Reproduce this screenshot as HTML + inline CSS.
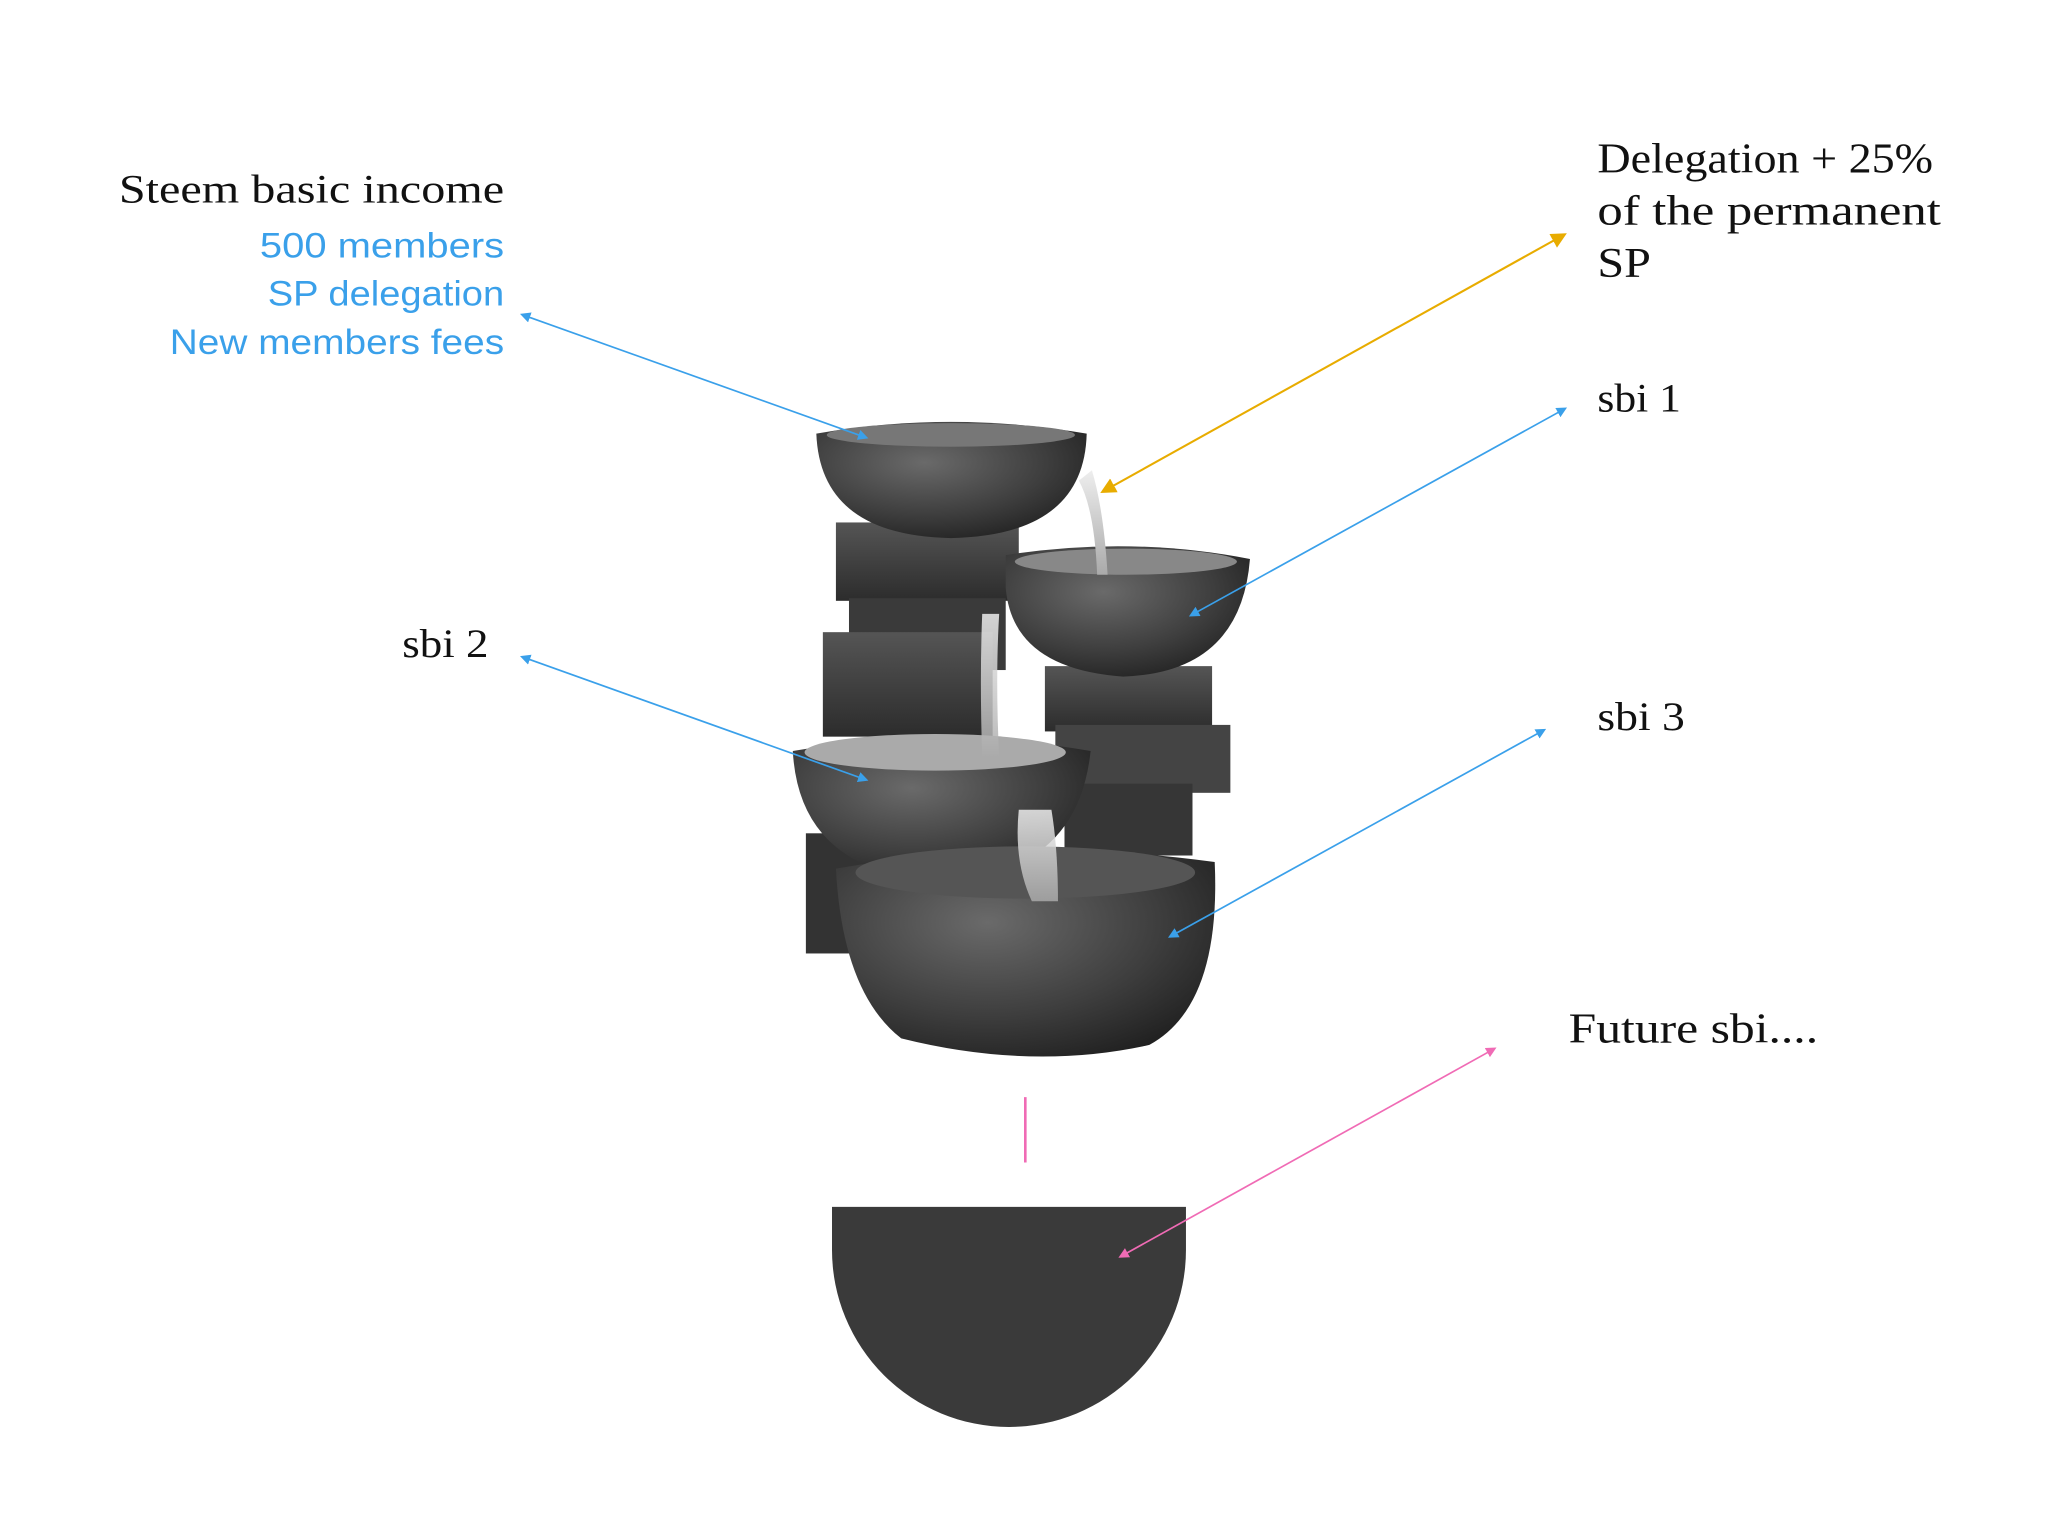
<!DOCTYPE html>
<html><head><meta charset="utf-8"><style>
html,body{margin:0;padding:0;background:#fff;}
svg{display:block;}
.serif{font-family:"Liberation Serif","DejaVu Serif",serif;fill:#111;}
.sans{font-family:"Liberation Sans","DejaVu Sans",sans-serif;fill:#3aa0ea;}
</style></head><body>
<svg width="2048" height="1536" viewBox="0 0 1568 1176" xmlns="http://www.w3.org/2000/svg">
<defs>
<radialGradient id="stone" cx="40%" cy="35%" r="75%">
<stop offset="0" stop-color="#6a6a6a"/><stop offset="0.6" stop-color="#3e3e3e"/><stop offset="1" stop-color="#1e1e1e"/>
</radialGradient>
<linearGradient id="blk" x1="0" y1="0" x2="0" y2="1"><stop offset="0" stop-color="#555"/><stop offset="1" stop-color="#2c2c2c"/></linearGradient>
<linearGradient id="water" x1="0" y1="0" x2="0" y2="1"><stop offset="0" stop-color="#eee"/><stop offset="1" stop-color="#aaa"/></linearGradient>
<marker id="ab" markerWidth="8" markerHeight="8" refX="6" refY="4" orient="auto-start-reverse" markerUnits="userSpaceOnUse"><path d="M0,0 L8,4 L0,8 Z" fill="#3aa0ea"/></marker>
<marker id="ay" markerWidth="12" markerHeight="12" refX="9" refY="6" orient="auto-start-reverse" markerUnits="userSpaceOnUse"><path d="M0,0 L12,6 L0,12 Z" fill="#e8ac00"/></marker>
<marker id="ap" markerWidth="8" markerHeight="8" refX="6" refY="4" orient="auto-start-reverse" markerUnits="userSpaceOnUse"><path d="M0,0 L8,4 L0,8 Z" fill="#f06bb5"/></marker>
</defs>

<g>
<rect x="617" y="638" width="45" height="92" fill="#333"/>
<rect x="640" y="400" width="140" height="60" fill="url(#blk)"/>
<rect x="650" y="458" width="120" height="55" fill="#3a3a3a"/>
<rect x="630" y="484" width="130" height="80" fill="url(#blk)"/>
<rect x="800" y="510" width="128" height="50" fill="url(#blk)"/>
<rect x="808" y="555" width="134" height="52" fill="#444"/>
<rect x="815" y="600" width="98" height="55" fill="#363636"/>
<path d="M625,332 Q728,314 832,332 Q830,410 728,412 Q628,410 625,332 Z" fill="url(#stone)"/>
<ellipse cx="728" cy="333" rx="95" ry="9" fill="#777"/>
<path d="M770,425 Q865,410 957,428 Q950,515 860,518 Q775,512 770,450 Z" fill="url(#stone)"/>
<ellipse cx="862" cy="430" rx="85" ry="10" fill="#888"/>
<path d="M607,575 Q720,555 835,575 Q825,670 720,675 Q612,668 607,575 Z" fill="url(#stone)"/>
<ellipse cx="716" cy="576" rx="100" ry="14" fill="#aaa"/>
<path d="M640,665 Q785,640 930,660 Q935,770 880,800 Q790,820 690,795 Q645,760 640,665 Z" fill="url(#stone)"/>
<ellipse cx="785" cy="668" rx="130" ry="20" fill="#555"/>
<path d="M826,368 Q838,390 840,440 L848,440 Q845,390 836,360 Z" fill="url(#water)"/>
<path d="M752,470 Q750,520 752,580 L765,580 Q762,520 765,470 Z" fill="url(#water)" opacity="0.85"/>
<path d="M780,620 Q776,660 790,690 L810,690 Q810,650 805,620 Z" fill="url(#water)" opacity="0.85"/>
</g>

<path d="M637,924 L908,924 L908,957 A135.5,135.5 0 0 1 637,957 Z" fill="#3a3a3a"/>
<line x1="785" y1="840" x2="785" y2="890" stroke="#f06bb5" stroke-width="2"/>

<line x1="400" y1="241" x2="663" y2="335" stroke="#3aa0ea" stroke-width="1.3" marker-start="url(#ab)" marker-end="url(#ab)"/>
<line x1="1197" y1="180" x2="845" y2="376" stroke="#e8ac00" stroke-width="1.6" marker-start="url(#ay)" marker-end="url(#ay)"/>
<line x1="1198" y1="313" x2="912" y2="471" stroke="#3aa0ea" stroke-width="1.3" marker-start="url(#ab)" marker-end="url(#ab)"/>
<line x1="400" y1="503" x2="663" y2="597" stroke="#3aa0ea" stroke-width="1.3" marker-start="url(#ab)" marker-end="url(#ab)"/>
<line x1="1182" y1="559" x2="896" y2="717" stroke="#3aa0ea" stroke-width="1.3" marker-start="url(#ab)" marker-end="url(#ab)"/>
<line x1="1144" y1="803" x2="858" y2="962" stroke="#f06bb5" stroke-width="1.3" marker-start="url(#ap)" marker-end="url(#ap)"/>

<text class="serif" x="91" y="155" font-size="31" textLength="295" lengthAdjust="spacingAndGlyphs">Steem basic income</text>
<text class="sans" x="199" y="197" font-size="27" textLength="187" lengthAdjust="spacingAndGlyphs">500 members</text>
<text class="sans" x="205" y="234" font-size="27" textLength="181" lengthAdjust="spacingAndGlyphs">SP delegation</text>
<text class="sans" x="130" y="271" font-size="27" textLength="256" lengthAdjust="spacingAndGlyphs">New members fees</text>
<text class="serif" x="1223" y="132" font-size="32" textLength="257" lengthAdjust="spacingAndGlyphs">Delegation + 25%</text>
<text class="serif" x="1223" y="172" font-size="32" textLength="263" lengthAdjust="spacingAndGlyphs">of the permanent</text>
<text class="serif" x="1223" y="212" font-size="32" textLength="41" lengthAdjust="spacingAndGlyphs">SP</text>
<text class="serif" x="1223" y="315" font-size="31" textLength="64" lengthAdjust="spacingAndGlyphs">sbi 1</text>
<text class="serif" x="308" y="503" font-size="31" textLength="66" lengthAdjust="spacingAndGlyphs">sbi 2</text>
<text class="serif" x="1223" y="559" font-size="31" textLength="67" lengthAdjust="spacingAndGlyphs">sbi 3</text>
<text class="serif" x="1201" y="798" font-size="32" textLength="191" lengthAdjust="spacingAndGlyphs">Future sbi....</text>
</svg>
</body></html>
